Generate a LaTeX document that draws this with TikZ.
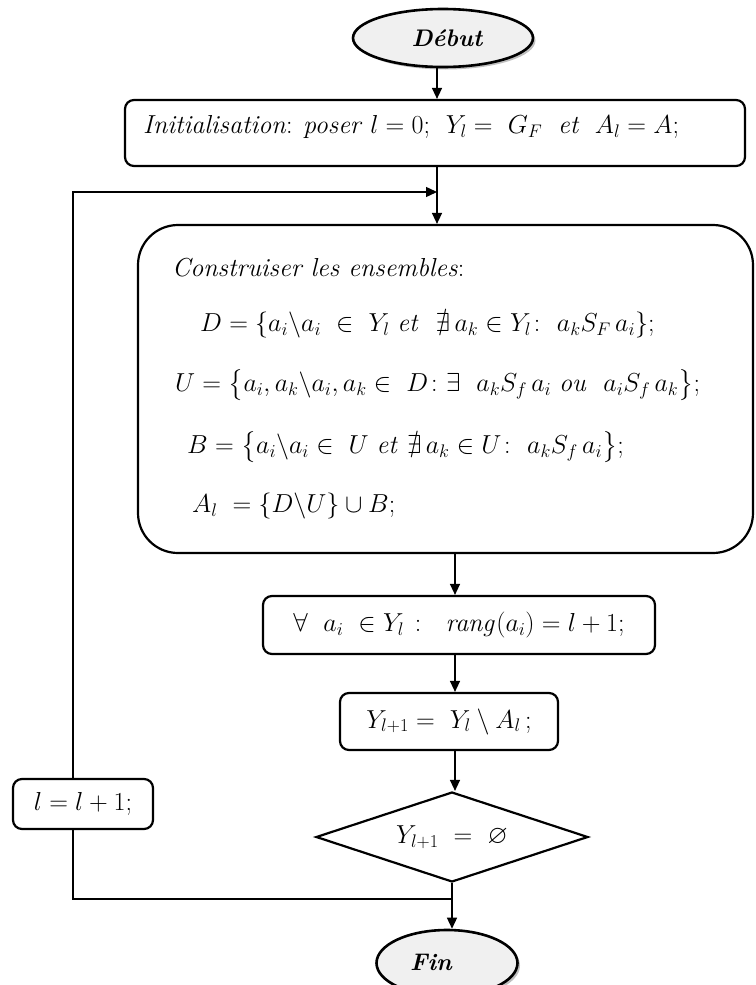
\RequirePackage{fix-cm}
\documentclass[tikz,border=0pt]{standalone}
\usepackage{amsmath,amssymb}
\usetikzlibrary{shapes.geometric,arrows.meta,shadows}
\begin{document}
\begin{tikzpicture}[x=1pt,y=-1pt,
  every node/.style={font=\fontsize{26}{30}\selectfont},
  term/.style={ellipse, draw, line width=2.6pt, fill=gray!12, inner sep=0pt,
    drop shadow={shadow xshift=2.5pt,shadow yshift=-2.5pt,opacity=0.25,fill=black}},
  termtxt/.style={inner sep=0pt, font=\fontsize{24}{28}\selectfont\bfseries\itshape},
  box/.style={draw, line width=2.2pt, rounded corners=9pt, inner sep=0pt},
  txt/.style={anchor=west, inner sep=0pt},
  arr/.style={line width=1.4pt, -{Triangle[length=11pt,width=10pt]}},
  ln/.style={line width=1.4pt}]
\useasboundingbox (0,0) rectangle (755,985);

\node[term, minimum width=180pt, minimum height=58pt] (debut) at (443,38) {};
\node[termtxt] (debuttxt) at (447,38) {Début};
\node[box, minimum width=620pt, minimum height=66pt] (init) at (435,133) {};
\node[txt] (inittxt) at (143,127) {\textit{Initialisation}: \textit{poser} $l=0$;\ \ $Y_l=\ G_F$ \ \textit{et}\ \ $A_l=A$;};

\node[box, rounded corners=40pt, minimum width=615pt, minimum height=328pt] (ens) at (445.5,389) {};
\node[txt] (titre) at (172,268) {\textit{Construiser les ensembles}:};
\node[txt] (dset) at (200,325) {$D=\{a_i\backslash a_i\ \in\ Y_l\ \mathit{et}\ \ \nexists\, a_k\in Y_l\colon\ a_kS_F\,a_i\};$};
\node[txt] (uset) at (175,385) {$U=\big\{a_i,a_k\backslash a_i,a_k\in\ D\colon\exists\ \ a_kS_f\,a_i\ \mathit{ou}\ \ a_iS_f\,a_k\big\};$};
\node[txt] (bset) at (187,447) {$B=\big\{a_i\backslash a_i\in\ U\ \mathit{et}\ \nexists\, a_k\in U\colon\ a_kS_f\,a_i\big\};$};
\node[txt] (aset) at (192,506) {$A_l\ =\{D\backslash U\}\cup B;$};

\node[box, minimum width=392pt, minimum height=58pt] (rang) at (459,625) {$\forall\ \ a_i\ \in Y_l\ \colon\ \ \mathit{rang}(a_i)=l+1;$};
\node[box, minimum width=218pt, minimum height=57pt] (maj) at (449,721.5) {$Y_{l+1}=\ Y_l\setminus A_l\,;$};
\node[diamond, draw, line width=2.2pt, aspect=3, minimum width=272pt, minimum height=90pt, inner sep=0pt] (test) at (452,837) {$Y_{l+1}\ =\ \varnothing$};
\node[box, minimum width=140pt, minimum height=50pt] (inc) at (83,804) {$l=l+1;$};
\node[term, minimum width=141pt, minimum height=66pt] (fin) at (447,963) {};
\node[termtxt] (fintxt) at (431,962) {Fin};

\coordinate (j1) at (437,192);
\coordinate (lx) at (73,899);
\coordinate (c2) at (455,0);

\draw[arr] (j1 |- debut.south) -- (j1 |- init.north);
\draw[arr] (j1 |- init.south) -- (j1 |- ens.north);
\draw[arr] (lx |- inc.north) -- (lx |- j1) -- (j1);
\draw[arr] (c2 |- ens.south) -- (c2 |- rang.north);
\draw[arr] (c2 |- rang.south) -- (c2 |- maj.north);
\draw[arr] (c2 |- maj.south) -- (c2 |- test.north);
\draw[arr] (test.south) -- (test.south |- fin.north);
\draw[ln] (lx |- inc.south) -- (lx) -- (lx -| test.south);
\end{tikzpicture}
\end{document}
